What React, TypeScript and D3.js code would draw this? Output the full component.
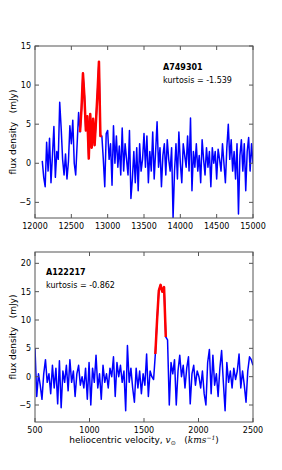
import * as d3 from "d3";

// top spectrum: A749301, channels every 20 km/s from 12100
const topStart = 12100;
const topStep = 20;
const topFlux = [
  0.3, -1.8, -3.0, 2.7, -1.0, 3.2, -2.5, 1.0, 4.7, -1.8,
  1.5, 0.5, 7.8, 4.5, 0.5, -1.5, 1.2, -2.0, 0.2, 4.8,
  2.5, 5.5, 0.0, -1.5, 2.5, 6.5, 4.0, 7.0, 11.5, 8.5,
  4.2, 6.0, 0.6, 6.3, 2.0, 5.7, 2.3, 5.5, 9.0, 13.0,
  3.5, 3.5, 0.5, -3.0, 3.8, 4.2, 0.5, 2.5, -2.8, 4.8,
  0.0, 3.5, -0.5, 2.2, -1.5, 4.5, -1.0, 2.5, 0.5, -1.5,
  4.2, -4.5, -2.0, 1.5, -2.5, 2.0, -3.5, 2.5, -1.0, 0.5,
  3.8, -0.5, 3.5, -2.5, 1.5, -1.0, 4.0, -2.0, 1.5, 5.3,
  -0.5, 2.0, -3.0, 1.0, 2.5, -1.5, 3.0, 0.5, -1.0, 2.0,
  -7.0, -1.0, 2.5, -2.0, 4.0, 0.0, -2.5, 2.5, 1.0, -0.5,
  3.5, -1.0, 5.8, -3.5, 1.5, -0.5, 2.5, -1.0, 1.0, -2.5,
  3.0, 0.5, -1.5, 2.0, -0.5, 1.5, -3.0, 2.0, 0.0, 1.5,
  -2.0, 1.8, 0.5, -1.0, 2.5, 0.0, -2.5, 2.0, 5.0, 0.5,
  3.0, -1.0, 1.5, -2.0, 2.5, -6.5, 1.0, 3.0, -1.0, 2.5,
  -3.5, 1.5, 3.3, -1.0, 2.5, 0.0,
];
const topLine = [12620, 12920];

// bottom spectrum: A122217, channels every 16 km/s from 500
const botStart = 500;
const botStep = 16;
const botFlux = [
  5.0, -3.5, 0.5, -1.5, -4.0, 0.5, 3.0, -1.0, 0.5, -3.0,
  2.0, -2.0, 1.5, -4.8, 2.8, -5.5, 1.0, -1.0, 2.0, -2.5,
  3.0, -1.0, 1.0, -3.5, 0.5, 2.0, -1.5, 0.0, -2.0, 1.5,
  -4.0, 2.5, -5.0, 1.5, -1.0, 3.8, -2.0, 0.5, -4.0, 2.0,
  -1.0, 0.5, -2.0, 1.5, 0.0, 3.5, -3.5, 2.5, 0.0, 2.0,
  -1.0, 1.0, -6.0, 5.5, -1.0, 1.5, -2.0, -4.5, 1.5, -2.0,
  1.0, -3.0, 0.5, -1.5, 4.0, -3.5, 1.0, 0.0, -0.5, 4.0,
  10.0, 15.2, 16.2, 15.0, 15.8, 7.0, 6.5, -5.0, 2.5, 0.5,
  3.0, -5.0, 1.0, 3.8, 0.0, 2.0, -2.0, 1.5, 3.5, -4.8,
  0.5, 2.0, -1.5, 1.0, 0.0, -2.0, 1.0, -3.0, -5.0, 2.5,
  4.8, -3.0, 3.8, -1.5, 0.5, -3.5, 1.5, 4.6, -1.0, -6.0,
  2.5, -1.0, 1.0, -2.0, 1.5, -0.5, 1.0, 4.0, -2.0, 1.0,
  -1.5, -4.5, 1.0, 3.5, 3.0, 2.0,
];
const botLine = [1600, 1705];

const topXTicks = [12000, 12500, 13000, 13500, 14000, 14500, 15000];
const topYTicks = [-5, 0, 5, 10, 15];
const botXTicks = [500, 1000, 1500, 2000, 2500];
const botYTicks = [-5, 0, 5, 10, 15, 20];

const FONT = "DejaVu Sans, sans-serif";
const minus = (v: number) => String(v).replace("-", "\u2212");

interface PanelProps {
  x0: number; x1: number; y0: number; y1: number;
  xDomain: [number, number]; yDomain: [number, number];
  xTicks: number[]; yTicks: number[];
  start: number; step: number; flux: number[]; line: number[];
  name: string; kurt: string; labelX: number; labelY: number;
}

function Panel(p: PanelProps) {
  const x = d3.scaleLinear().domain(p.xDomain).range([p.x0, p.x1]);
  const y = d3.scaleLinear().domain(p.yDomain).range([p.y1, p.y0]);
  const pts = p.flux.map((f, i) => ({ v: p.start + i * p.step, f }));
  const gen = d3.line<{ v: number; f: number }>().x((d) => x(d.v)).y((d) => y(d.f));
  const red = pts.filter((d) => d.v >= p.line[0] && d.v <= p.line[1]);
  const clipId = "clip-" + p.name;
  const tl = 4;
  const frame = "#555";
  return (
    <g>
      <clipPath id={clipId}>
        <rect x={p.x0} y={p.y0} width={p.x1 - p.x0} height={p.y1 - p.y0} />
      </clipPath>
      <g clipPath={`url(#${clipId})`}>
        <path d={gen(pts) ?? ""} fill="none" stroke="#0000ff" strokeWidth={1.5} strokeLinejoin="round" />
        <path d={gen(red) ?? ""} fill="none" stroke="#ff0000" strokeWidth={2.5} strokeLinejoin="round" />
      </g>
      <rect x={p.x0} y={p.y0} width={p.x1 - p.x0} height={p.y1 - p.y0} fill="none" stroke={frame} strokeWidth={1} />
      {p.xTicks.map((t) => (
        <g key={"x" + t}>
          <line x1={x(t)} x2={x(t)} y1={p.y1} y2={p.y1 - tl} stroke={frame} />
          <line x1={x(t)} x2={x(t)} y1={p.y0} y2={p.y0 + tl} stroke={frame} />
          <text x={x(t)} y={p.y1 + 11} fontSize={8} fontFamily={FONT} textAnchor="middle">{t}</text>
        </g>
      ))}
      {p.yTicks.map((t) => (
        <g key={"y" + t}>
          <line x1={p.x0} x2={p.x0 + tl} y1={y(t)} y2={y(t)} stroke={frame} />
          <line x1={p.x1} x2={p.x1 - tl} y1={y(t)} y2={y(t)} stroke={frame} />
          <text x={p.x0 - 4} y={y(t) + 3} fontSize={8} fontFamily={FONT} textAnchor="end">{minus(t)}</text>
        </g>
      ))}
      <text x={p.labelX} y={p.labelY} fontSize={8} fontFamily={FONT} fontWeight="bold">{p.name}</text>
      <text x={p.labelX} y={p.labelY + 12.5} fontSize={8} fontFamily={FONT}>{p.kurt}</text>
      <text transform={`translate(16,${(p.y0 + p.y1) / 2}) rotate(-90)`} fontSize={9} fontFamily={FONT} textAnchor="middle">
        flux density{"\u00a0\u00a0\u00a0"}(mJy)
      </text>
    </g>
  );
}

export default function App() {
  return (
    <svg width={282} height={470} style={{ position: "absolute", left: 0, top: 0, background: "#fff" }}>
      <Panel x0={35} x1={253} y0={46} y1={218} xDomain={[12000, 15000]} yDomain={[-7, 15]}
        xTicks={topXTicks} yTicks={topYTicks} start={topStart} step={topStep} flux={topFlux}
        line={topLine} name="A749301" kurt={"kurtosis = -1.539"} labelX={163} labelY={70} />
      <Panel x0={35} x1={253} y0={252} y1={422} xDomain={[500, 2500]} yDomain={[-8, 22]}
        xTicks={botXTicks} yTicks={botYTicks} start={botStart} step={botStep} flux={botFlux}
        line={botLine} name="A122217" kurt={"kurtosis = -0.862"} labelX={46} labelY={275} />
      <text x={144} y={443} fontSize={9} fontFamily={FONT} textAnchor="middle">
        heliocentric velocity,{" "}
        <tspan fontFamily="DejaVu Serif, serif" fontStyle="italic">v</tspan>
        <tspan fontSize={6} dy={2}>⊙</tspan>
        <tspan dy={-2}>{"\u00a0\u00a0\u00a0"}(</tspan>
        <tspan fontFamily="DejaVu Serif, serif" fontStyle="italic">kms</tspan>
        <tspan fontSize={6} dy={-3.5} fontFamily="DejaVu Serif, serif" fontStyle="italic">−1</tspan>
        <tspan dy={3.5}>)</tspan>
      </text>
    </svg>
  );
}
